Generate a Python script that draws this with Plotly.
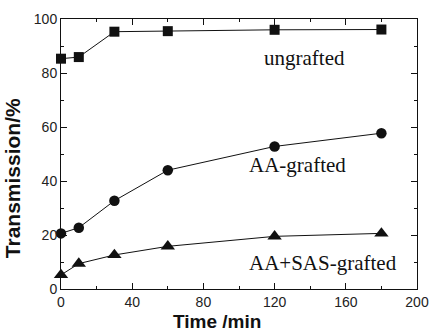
import plotly.graph_objects as go

time_min = [0, 10, 30, 60, 120, 180]
ungrafted = [85.3, 85.9, 95.3, 95.5, 96.0, 96.1]
aa_grafted = [20.6, 22.7, 32.7, 44.0, 52.8, 57.7]
aa_sas_grafted = [5.2, 9.4, 12.6, 15.8, 19.5, 20.6]

series = [
    ("ungrafted", ungrafted, "square", 10),
    ("AA-grafted", aa_grafted, "circle", 10.5),
    ("AA+SAS-grafted", aa_sas_grafted, "triangle-up", 12.5),
]
labels = [("ungrafted", 137, 85.5), ("AA-grafted", 133, 46), ("AA+SAS-grafted", 147, 9.6)]

fig = go.Figure()
for name, ys, sym, sz in series:
    fig.add_trace(go.Scatter(
        x=time_min, y=ys, mode="lines+markers", name=name,
        line=dict(color="#111111", width=1),
        marker=dict(symbol=sym, size=sz, color="#111111"),
        cliponaxis=False,
    ))

for text, x, y in labels:
    fig.add_annotation(x=x, y=y, text=text, showarrow=False,
                       font=dict(family="Liberation Serif", size=21, color="#111111"))

# axis titles as paper annotations (plot area: 61..417 px wide, 19..289 px high)
fig.add_annotation(xref="paper", yref="paper", x=0.437, y=-0.163, text="<b>Time /min</b>",
                   showarrow=False, xanchor="center", yanchor="bottom", borderpad=0,
                   font=dict(family="Liberation Sans", size=19, color="#111111"))
fig.add_annotation(xref="paper", yref="paper", x=-0.171, y=0.409, text="<b>Transmission/%</b>",
                   showarrow=False, xanchor="left", yanchor="middle", textangle=-90, borderpad=0,
                   font=dict(family="Liberation Sans", size=21, color="#111111"))

axis_common = dict(
    showline=True, linecolor="#111111", linewidth=1, mirror="ticks",
    ticks="inside", ticklen=6, tickcolor="#111111", showgrid=False, zeroline=False,
    tickfont=dict(family="Liberation Sans", size=14, color="#222222"),
    minor=dict(ticks="inside", ticklen=3, tickcolor="#111111"),
    automargin=False,
)

fig.update_xaxes(range=[0, 200], dtick=40, minor_dtick=20, **axis_common)
fig.update_yaxes(range=[0, 100], dtick=20, minor_dtick=10, **axis_common)

fig.update_layout(
    width=430, height=333, showlegend=False,
    plot_bgcolor="white", paper_bgcolor="white",
    margin=dict(l=61, r=13, t=19, b=44),
)
fig.write_html("out.html")
